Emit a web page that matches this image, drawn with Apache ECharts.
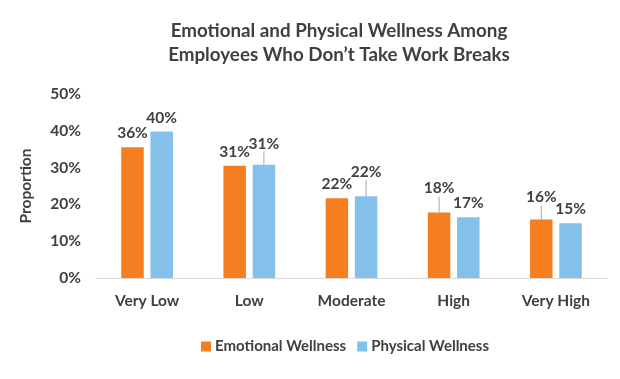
<!DOCTYPE html>
<html><head><meta charset="utf-8">
<script src="https://cdn.jsdelivr.net/npm/echarts@6/dist/echarts.min.js"></script>
<style>html,body{margin:0;padding:0;background:#fff}#c{width:620px;height:379px}</style>
</head><body><div id="c"></div>
<script>
const categories = ['Very Low', 'Low', 'Moderate', 'High', 'Very High'];
const emotional = [35.5, 30.5, 21.7, 17.8, 15.9];
const physical = [39.8, 30.8, 22.2, 16.5, 14.9];
const yTicks = [0, 10, 20, 30, 40, 50];

const FONT = 'Lato';
const TXT = '#404040';
const emoDy = [0, 0, 0, -10, -8];
const phyDy = [0, -7, -10, 0, 0];

const chart = echarts.init(document.getElementById('c'));
function mkSeries(name, values, color, dys) {
  return {
    name, type: 'bar',
    data: values.map((v, i) => ({ value: v, labelLine: { show: dys[i] !== 0 } })),
    barWidth: '22%', barGap: '30%',
    itemStyle: { color },
    label: {
      show: true, position: 'top', distance: 6,
      fontFamily: FONT, fontWeight: 'bold', fontSize: 15.5, color: TXT,
      formatter: p => Math.round(p.value) + '%'
    },
    labelLine: { lineStyle: { color: '#A6A6A6', width: 1 } },
    labelLayout: p => ({ dy: dys[p.dataIndex] })
  };
}
chart.setOption({
  animation: false,
  textStyle: { fontFamily: FONT },
  title: {
    text: 'Emotional and Physical Wellness Among\nEmployees Who Don\u2019t Take Work Breaks',
    left: 334, top: 14, textAlign: 'center',
    textStyle: { fontFamily: FONT, fontWeight: 'bold', fontSize: 18.8, color: TXT, lineHeight: 24 }
  },
  legend: {
    bottom: 20, left: 196, itemWidth: 10, itemHeight: 10, itemGap: 11,
    icon: 'rect',
    textStyle: { fontFamily: FONT, fontWeight: 'bold', fontSize: 15, color: TXT, padding: [0, 0, 0, -1] },
    data: ['Emotional Wellness', 'Physical Wellness']
  },
  grid: { left: 96, right: 13, top: 94, bottom: 101 },
  xAxis: {
    type: 'category', data: categories,
    axisLine: { lineStyle: { color: '#D9D9D9' } },
    axisTick: { show: false },
    axisLabel: { fontFamily: FONT, fontWeight: 'bold', fontSize: 15.5, color: TXT, margin: 15 }
  },
  yAxis: {
    type: 'value', min: yTicks[0], max: yTicks[yTicks.length - 1], interval: 10,
    name: 'Proportion', nameLocation: 'middle', nameGap: 62, nameRotate: 90,
    nameTextStyle: { fontFamily: FONT, fontWeight: 'bold', fontSize: 15.5, color: TXT },
    axisLine: { show: false }, axisTick: { show: false },
    splitLine: { show: false },
    axisLabel: { fontFamily: FONT, fontWeight: 'bold', fontSize: 15.5, color: TXT, margin: 15,
      formatter: v => v + '%' }
  },
  series: [
    mkSeries('Emotional Wellness', emotional, '#F47E20', emoDy),
    mkSeries('Physical Wellness', physical, '#83C1EB', phyDy)
  ]
});
</script></body></html>
